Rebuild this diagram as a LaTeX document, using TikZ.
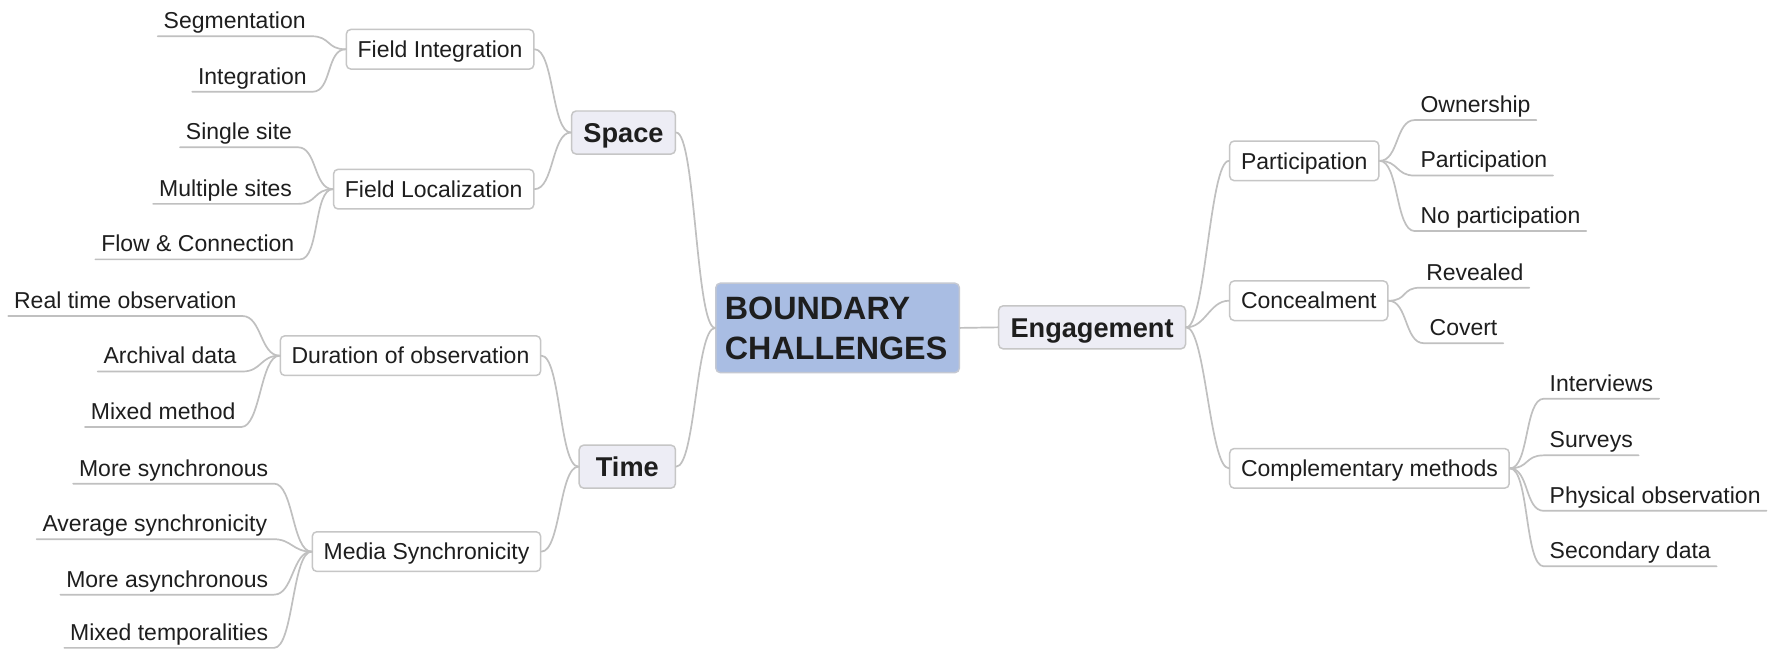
\documentclass[tikz,border=0pt]{standalone}
\usepackage{fontspec}
\setmainfont{Liberation Sans}
\usetikzlibrary{calc}
\definecolor{lineg}{HTML}{C0C0C0}
\definecolor{boxg}{HTML}{C6C6C6}
\definecolor{mainfill}{HTML}{EDEDF5}
\definecolor{rootfill}{HTML}{A9BDE3}
\definecolor{rootdraw}{HTML}{C4C8D2}
\definecolor{txt}{HTML}{1E1E1E}
\tikzset{
  rootbox/.style={draw=rootdraw, fill=rootfill, rounded corners=4pt, line width=1.3pt, text=txt,
    font=\fontsize{28.5}{36}\selectfont\bfseries, text width=199pt, align=left, inner xsep=8pt, inner ysep=0pt,
    minimum height=79pt, text height=20.4pt, text depth=36pt},
  mainbox/.style={draw=boxg, fill=mainfill, rounded corners=4pt, line width=1.3pt, text=txt,
    font=\fontsize{24}{28}\selectfont\bfseries, inner xsep=10.5pt, inner ysep=0pt, minimum height=38pt,
    text height=17.2pt, text depth=0pt},
  subbox/.style={draw=boxg, fill=white, rounded corners=4pt, line width=1.3pt, text=txt,
    font=\fontsize{20.3}{24}\selectfont, inner xsep=10pt, inner ysep=0pt, minimum height=35pt,
    text height=14.5pt, text depth=0pt},
  leaf/.style={text=txt, font=\fontsize{20.3}{24}\selectfont, inner xsep=5pt, inner ysep=0pt,
    text height=14.5pt, text depth=6.5pt},
  conn/.style={draw=lineg, line width=1.5pt, line cap=round, line join=round},
  toL/.style={to path={.. controls ($(\tikztostart)+(-17,0)$) and ($(\tikztotarget)+(17,0)$) .. (\tikztotarget)}},
  toR/.style={to path={.. controls ($(\tikztostart)+(17,0)$) and ($(\tikztotarget)+(-17,0)$) .. (\tikztotarget)}}
}
\begin{document}
\begin{tikzpicture}[x=1pt, y=-1pt]
\fill[white] (0,0) rectangle (1568,573);
\useasboundingbox (0,0) rectangle (1568,573);

% main nodes
\node[rootbox] (root) at (739.5,289.5) {BOUNDARY\\CHALLENGES};
\node[mainbox, anchor=east] (space) at (597,117) {Space};
\node[mainbox, anchor=east, minimum width=85pt] (time) at (597,412) {Time};
\node[mainbox, anchor=west] (eng) at (881,289) {Engagement};

% sub nodes
\node[subbox, anchor=east] (fi) at (472,43.5) {Field Integration};
\node[subbox, anchor=east] (fl) at (472,167) {Field Localization};
\node[subbox, anchor=east] (dur) at (478,314) {Duration of observation};
\node[subbox, anchor=east] (med) at (478,487) {Media Synchronicity};
\node[subbox, anchor=west] (par) at (1085,142) {Participation};
\node[subbox, anchor=west] (con) at (1085,265.5) {Concealment};
\node[subbox, anchor=west] (com) at (1085,413.5) {Complementary methods};

% left leaves
\node[leaf, anchor=south east] (seg) at (275,32) {Segmentation};
\node[leaf, anchor=south east] (integ) at (276,81) {Integration};
\node[leaf, anchor=south east] (single) at (263,130) {Single site};
\node[leaf, anchor=south east] (multi) at (263,180) {Multiple sites};
\node[leaf, anchor=south east] (flow) at (265,229) {Flow \& Connection};
\node[leaf, anchor=south east] (real) at (214,279) {Real time observation};
\node[leaf, anchor=south east] (arch) at (214,328) {Archival data};
\node[leaf, anchor=south east] (mixm) at (213,377) {Mixed method};
\node[leaf, anchor=south east] (msync) at (242,427) {More synchronous};
\node[leaf, anchor=south east] (avg) at (241,476) {Average synchronicity};
\node[leaf, anchor=south east] (masync) at (242,525) {More asynchronous};
\node[leaf, anchor=south east] (mtemp) at (242,572) {Mixed temporalities};

% right leaves
\node[leaf, anchor=south west] (own) at (1249,106) {Ownership};
\node[leaf, anchor=south west] (partl) at (1249,155) {Participation};
\node[leaf, anchor=south west] (nopart) at (1249,204) {No participation};
\node[leaf, anchor=south west] (rev) at (1254,254) {Revealed};
\node[leaf, anchor=south west] (cov) at (1257,303) {Covert};
\node[leaf, anchor=south west] (intv) at (1363,352) {Interviews};
\node[leaf, anchor=south west] (surv) at (1363,402) {Surveys};
\node[leaf, anchor=south west] (phys) at (1363,451) {Physical observation};
\node[leaf, anchor=south west] (sec) at (1363,500) {Secondary data};

% connectors
\draw[conn] (root.east) -- (eng.west);
\draw[conn] (root.west) to[toL] (space.east);
\draw[conn] (root.west) to[toL] (time.east);
\draw[conn] (space.west) to[toL] (fi.east);
\draw[conn] (space.west) to[toL] (fl.east);
\draw[conn] (time.west) to[toL] (dur.east);
\draw[conn] (time.west) to[toL] (med.east);
\draw[conn] (eng.east) to[toR] (par.west);
\draw[conn] (eng.east) to[toR] (con.west);
\draw[conn] (eng.east) to[toR] (com.west);

\foreach \p/\c in {fi/seg, fi/integ, fl/single, fl/multi, fl/flow, dur/real, dur/arch, dur/mixm,
  med/msync, med/avg, med/masync, med/mtemp}
  \draw[conn] (\p.west) to[toL] (\c.south east) -- (\c.south west);
\foreach \p/\c in {par/own, par/partl, par/nopart, con/rev, con/cov, com/intv, com/surv, com/phys, com/sec}
  \draw[conn] (\p.east) to[toR] (\c.south west) -- (\c.south east);
\end{tikzpicture}
\end{document}
